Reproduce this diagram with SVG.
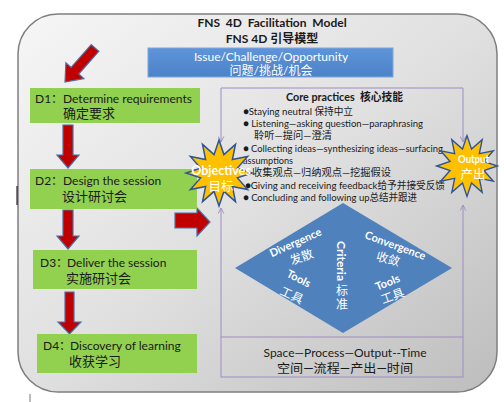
<svg xmlns="http://www.w3.org/2000/svg" width="504" height="402" viewBox="0 0 504 402">
<style>
.t{font-family:Lato,"Noto Sans CJK SC",sans-serif;fill:#1a1a1a}
.b{font-weight:bold}
.w{fill:#ffffff}
.c{font-size:13px}
.cp{font-size:10px}
.box{fill:#92D050}
.red{fill:#C00000;stroke:#4A6FA5;stroke-width:1.2}
.pl{fill:none;stroke:#9F8CC4;stroke-width:1}
.star{fill:#FFC000;stroke:#2F5597;stroke-width:1.5}
</style>
<defs>
<linearGradient id="bg" x1="0" y1="0" x2="1" y2="1">
<stop offset="0" stop-color="#F6F6F6"/>
<stop offset="0.5" stop-color="#E0E0E0"/>
<stop offset="1" stop-color="#BDBDBD"/>
</linearGradient>
<linearGradient id="bl" x1="0" y1="0" x2="0" y2="1">
<stop offset="0" stop-color="#5E95DA"/>
<stop offset="1" stop-color="#4C82C8"/>
</linearGradient>
<marker id="ah" viewBox="0 0 10 10" refX="9" refY="5" markerWidth="7" markerHeight="7" orient="auto" markerUnits="userSpaceOnUse">
<path d="M1,1 L9,5 L1,9" fill="none" stroke="#9F8CC4" stroke-width="1.3"/>
</marker>
<polygon id="star" points="0,-33 4.9,-18.4 16.5,-28.6 13.4,-13.4 28.6,-16.5 18.4,-4.9 33,0 18.4,4.9 28.6,16.5 13.4,13.4 16.5,28.6 4.9,18.4 0,33 -4.9,18.4 -16.5,28.6 -13.4,13.4 -28.6,16.5 -18.4,4.9 -33,0 -18.4,-4.9 -28.6,-16.5 -13.4,-13.4 -16.5,-28.6 -4.9,-18.4"/>
</defs>
<rect width="504" height="402" fill="#ffffff"/>
<g id="frame">
<rect x="18" y="14" width="479" height="378" rx="40" ry="40" fill="url(#bg)" stroke="#7F7F7F" stroke-width="1.5"/>
<text class="t b" x="272" y="27" font-size="12" text-anchor="middle" xml:space="preserve">FNS  4D  Facilitation  Model</text>
<text class="t b" x="272" y="43" font-size="12" text-anchor="middle">FNS 4D 引导模型</text>
</g>
<g id="issue">
<rect x="148" y="48" width="245" height="29" fill="url(#bl)" stroke="#7FA6DC" stroke-width="1"/>
<text class="t w" x="271" y="61" font-size="12" text-anchor="middle">Issue/Challenge/Opportunity</text>
<text class="t w" x="271" y="75" font-size="12" text-anchor="middle">问题/挑战/机会</text>
</g>
<g id="connectors">
<polygon class="red" points="91.2,44.7 71.1,67.4 65.9,62.8 65,82 83.9,78.6 78.7,74 98.8,51.3"/>
<polygon class="red" points="63,125 73,125 73,155 79,155 68,168 57,155 63,155"/>
<polygon class="red" points="63,210 73,210 73,236 79,236 68,249 57,236 63,236"/>
<polygon class="red" points="65,292 74,292 74,322 81,322 69.5,334 58,322 65,322"/>
<polygon class="red" points="175,213 197,213 197,208 210,222 197,236 197,228 175,228"/>
<path class="pl" d="M342,88 H221 V142" marker-end="url(#ah)"/>
<path class="pl" d="M342,88 H463 V142" marker-end="url(#ah)"/>
<path class="pl" d="M221,337 V208" marker-end="url(#ah)"/>
<path class="pl" d="M463,337 V205" marker-end="url(#ah)"/>
<line x1="17" y1="186" x2="17" y2="205" stroke="#000" stroke-width="1"/>
<line x1="30" y1="394" x2="30" y2="402" stroke="#555" stroke-width="0.8"/>
</g>
<g id="d1">
<rect class="box" x="30" y="88" width="170" height="35"/>
<text class="t" x="35" y="103" font-size="12">D1：</text>
<text class="t" x="63" y="103" font-size="12" textLength="129" lengthAdjust="spacingAndGlyphs">Determine requirements</text>
<text class="t c" x="63" y="118">确定要求</text>
</g>
<g id="d2">
<rect class="box" x="30" y="169" width="167" height="40"/>
<text class="t" x="35" y="185" font-size="12">D2：</text>
<text class="t" x="63" y="185" font-size="12">Design the session</text>
<text class="t c" x="62" y="201">设计研讨会</text>
</g>
<g id="d3">
<rect class="box" x="33" y="250" width="164" height="39"/>
<text class="t" x="40" y="267" font-size="12">D3：</text>
<text class="t" x="67" y="267" font-size="12">Deliver the session</text>
<text class="t c" x="66" y="283">实施研讨会</text>
</g>
<g id="d4">
<rect class="box" x="37" y="334" width="160" height="39"/>
<text class="t" x="43" y="350" font-size="12">D4：</text>
<text class="t" x="70" y="350" font-size="12">Discovery of learning</text>
<text class="t c" x="69" y="366">收获学习</text>
</g>
<g id="core">
<text class="t b" x="286" y="101" font-size="11" textLength="117" lengthAdjust="spacingAndGlyphs" xml:space="preserve">Core practices  核心技能</text>
<text class="t cp" x="243" y="115" textLength="110" lengthAdjust="spacingAndGlyphs">●Staying neutral 保持中立</text>
<text class="t cp" x="243" y="127" textLength="180" lengthAdjust="spacingAndGlyphs">● Listening—asking question—paraphrasing</text>
<text class="t cp" x="254" y="139" textLength="78" lengthAdjust="spacingAndGlyphs">聆听—提问—澄清</text>
<text class="t cp" x="243" y="152" textLength="200" lengthAdjust="spacingAndGlyphs">● Collecting ideas—synthesizing ideas—surfacing</text>
<text class="t cp" x="243" y="164" textLength="50" lengthAdjust="spacingAndGlyphs">assumptions</text>
<text class="t cp" x="252" y="176" textLength="139" lengthAdjust="spacingAndGlyphs">收集观点—归纳观点—挖掘假设</text>
<text class="t cp" x="245" y="189" textLength="200" lengthAdjust="spacingAndGlyphs">●Giving and receiving feedback给予并接受反馈</text>
<text class="t cp" x="243" y="201" textLength="174" lengthAdjust="spacingAndGlyphs">● Concluding and following up总结并跟进</text>
</g>
<g id="objectives">
<use href="#star" class="star" transform="translate(219,173)"/>
<text class="t b w" x="221" y="175" font-size="12.5" text-anchor="middle">Objectives</text>
<text class="t w" x="221" y="191" font-size="12.5" text-anchor="middle">目标</text>
</g>
<g id="output">
<use href="#star" class="star" transform="translate(467,166) scale(0.92)"/>
<text class="t b w" x="458" y="163" font-size="12" textLength="31" lengthAdjust="spacingAndGlyphs">Output</text>
<text class="t w" x="473" y="179" font-size="12.5" text-anchor="middle">产出</text>
</g>
<g id="diamond">
<polygon points="343,203 452,268 343,333 235,268" fill="#4F81BD"/>
<text class="t b w" font-size="11" text-anchor="middle" transform="translate(297,246) rotate(-24)">Divergence</text>
<text class="t w" font-size="12" text-anchor="middle" transform="translate(303,261) rotate(-20)">发散</text>
<text class="t b w" font-size="11" text-anchor="middle" transform="translate(297,282) rotate(27)">Tools</text>
<text class="t w" font-size="12" text-anchor="middle" transform="translate(290,299) rotate(25)">工具</text>
<text class="t b w" font-size="10.5" text-anchor="middle" transform="translate(337,261) rotate(90)" textLength="40" lengthAdjust="spacingAndGlyphs">Criteria</text>
<text class="t w" x="342" y="295" font-size="12" text-anchor="middle">标</text>
<text class="t w" x="342" y="309" font-size="12" text-anchor="middle">准</text>
<text class="t b w" font-size="11" text-anchor="middle" transform="translate(394,249) rotate(20)">Convergence</text>
<text class="t w" font-size="12" text-anchor="middle" transform="translate(387,263) rotate(15)">收敛</text>
<text class="t b w" font-size="11" text-anchor="middle" transform="translate(389,286) rotate(-22)">Tools</text>
<text class="t w" font-size="12" text-anchor="middle" transform="translate(394,300) rotate(-20)">工具</text>
</g>
<g id="spt">
<rect class="pl" x="221" y="337" width="242" height="40"/>
<text class="t" x="345" y="357" font-size="12" text-anchor="middle">Space—Process—Output--Time</text>
<text class="t" x="277" y="373" font-size="12.5" textLength="136" lengthAdjust="spacingAndGlyphs">空间—流程—产出—时间</text>
</g>
</svg>
